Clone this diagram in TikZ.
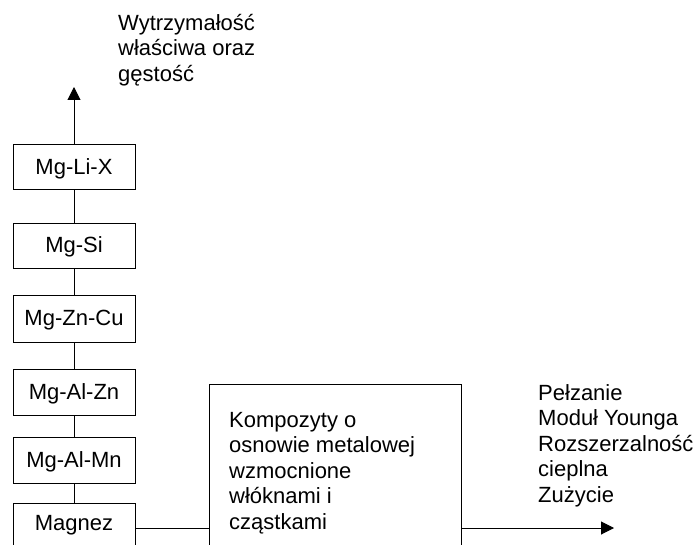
\documentclass[tikz,border=0pt]{standalone}
\usepackage{fontspec}
\setmainfont{Liberation Sans}
\usetikzlibrary{arrows.meta}
\begin{document}
\begin{tikzpicture}[x=1pt,y=-1pt,
  font=\fontsize{22}{25.5}\selectfont,
  alloy/.style={draw, line width=1pt, minimum width=122pt, minimum height=45pt, inner sep=0pt, text height=16pt, text depth=2pt},
  link/.style={draw, line width=1pt},
  arr/.style={-{Triangle[length=13pt,width=13pt]}},
  txt/.style={align=left, inner sep=0pt, anchor=north west}
]
\useasboundingbox (0,0) rectangle (700,545);
\clip (0,0) rectangle (700,545);
\fill[white] (0,0) rectangle (700,545);

\node[alloy] (lix) at (74,167.5) {Mg-Li-X};
\node[alloy] (si) at (74,245.5) {Mg-Si};
\node[alloy, minimum height=47pt] (zncu) at (74,318.5) {Mg-Zn-Cu};
\node[alloy, minimum height=46pt] (alzn) at (74,392) {Mg-Al-Zn};
\node[alloy, minimum height=46pt] (almn) at (74,460) {Mg-Al-Mn};
\node[alloy, minimum height=50pt, text depth=12pt] (mg) at (74,528) {Magnez};

\node[draw, line width=1pt, minimum width=252pt, minimum height=288pt, inner sep=0pt] (komp) at (335,528) {};
% strut height = 0.7*25.5 = 17.85
\node[txt] (kompt) at (229,409.15) {\strut Kompozyty o\\osnowie metalowej\\wzmocnione\\włóknami i\\cząstkami};

\node[txt] (strength) at (118,12.15) {\strut Wytrzymałość\\właściwa oraz\\gęstość};
\node[txt] (props) at (538,382.15) {\strut Pełzanie\\Moduł Younga\\Rozszerzalność\\cieplna\\Zużycie};

\coordinate (topend) at (74,87);
\coordinate (rightend) at (614,528);

\draw[link,arr] (lix.north) -- (topend);
\draw[link] (lix.south) -- (si.north);
\draw[link] (si.south) -- (zncu.north);
\draw[link] (zncu.south) -- (alzn.north);
\draw[link] (alzn.south) -- (almn.north);
\draw[link] (almn.south) -- (mg.north);
\draw[link] (mg.east) -- (komp.west);
\draw[link,arr] (komp.east) -- (rightend);
\end{tikzpicture}
\end{document}
